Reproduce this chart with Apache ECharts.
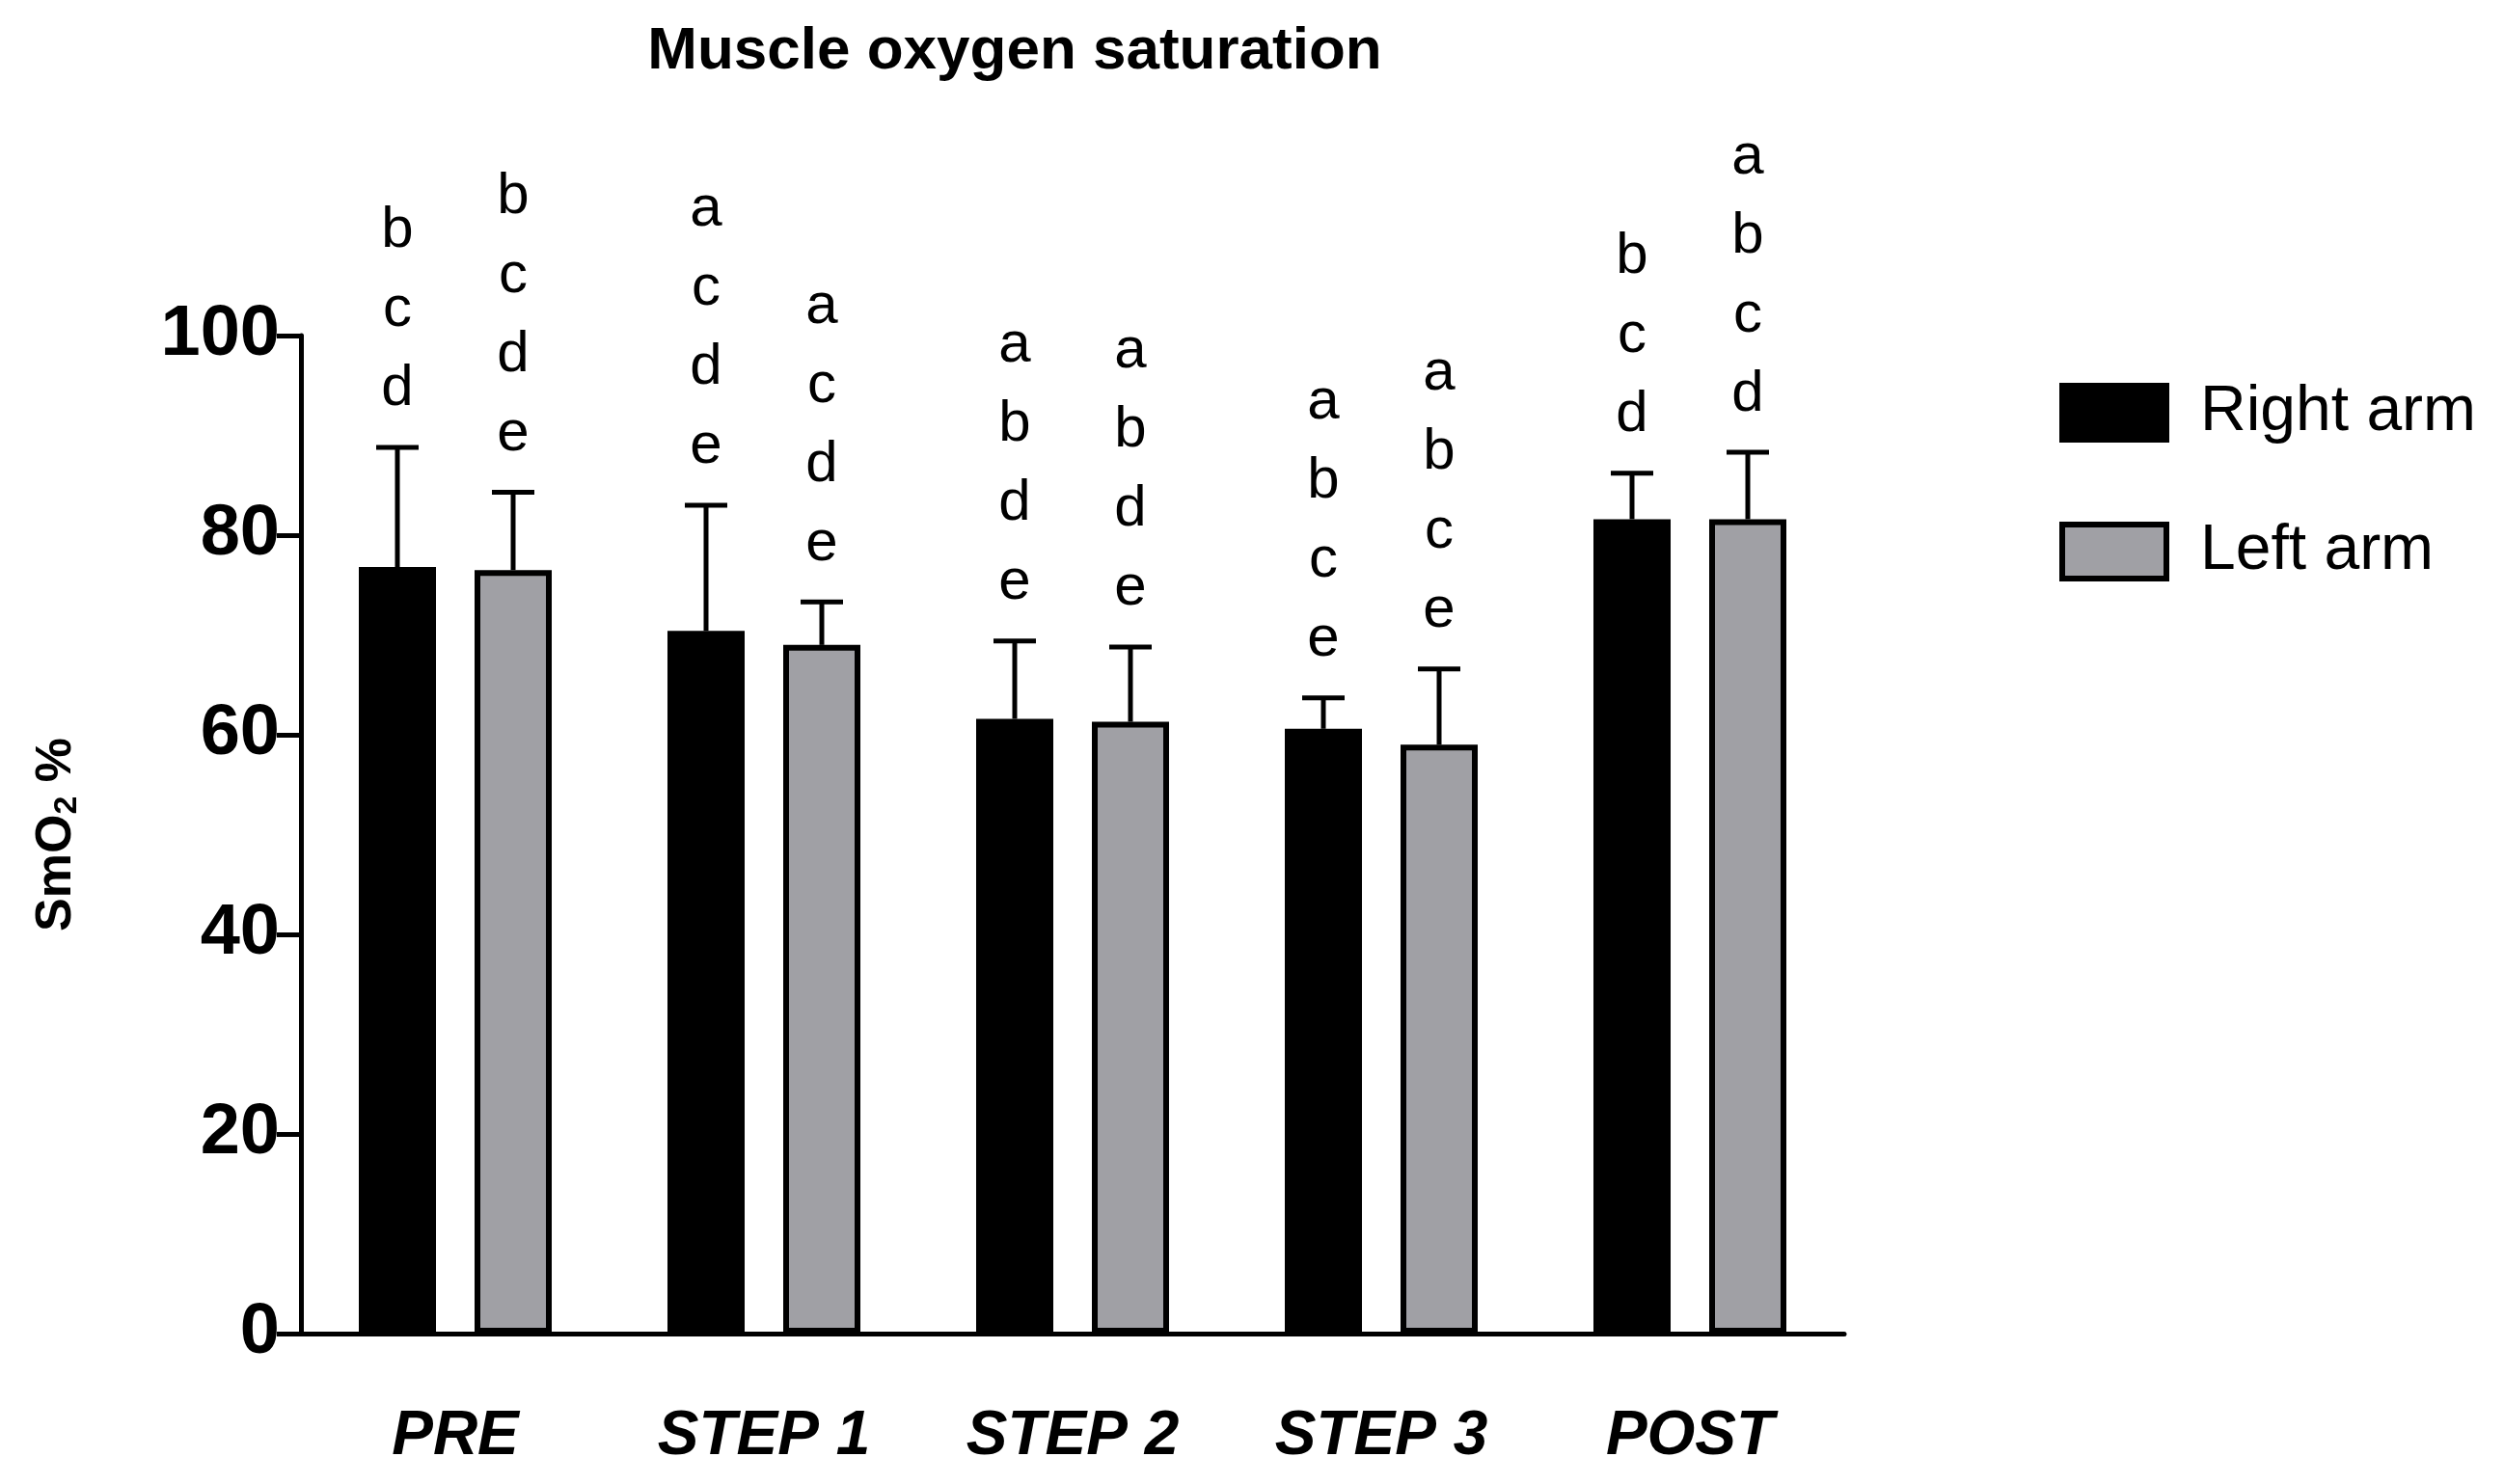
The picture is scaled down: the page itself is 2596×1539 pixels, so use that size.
<!DOCTYPE html>
<html>
<head>
<meta charset="utf-8">
<script src="https://cdn.jsdelivr.net/npm/echarts@6/dist/echarts.min.js"></script>
<style>html,body{margin:0;background:#fff}#chart{width:2596px;height:1539px}</style>
</head>
<body>
<div id="chart"></div>
<script>
const categories = ['PRE', 'STEP 1', 'STEP 2', 'STEP 3', 'POST']
const rightArm = [76.8, 70.4, 61.6, 60.6, 81.6]
const rightErr = [88.8, 83.0, 69.4, 63.7, 86.2]
const leftArm = [76.5, 69.0, 61.3, 59.0, 81.6]
const leftErr = [84.3, 73.3, 68.8, 66.6, 88.3]
const rightLetters = [['b', 'c', 'd'], ['a', 'c', 'd', 'e'], ['a', 'b', 'd', 'e'], ['a', 'b', 'c', 'e'], ['b', 'c', 'd']]
const leftLetters = [['b', 'c', 'd', 'e'], ['a', 'c', 'd', 'e'], ['a', 'b', 'd', 'e'], ['a', 'b', 'c', 'e'], ['a', 'b', 'c', 'd']]
const yTicks = [0, 20, 40, 60, 80, 100]

const chart = echarts.init(document.getElementById('chart'))
const font = 'Liberation Sans, Arial, sans-serif'

// error bar with letters above, shifted to match the grouped bar
function errorSeries(values, tops, letters, offset) {
    return {
        type: 'custom',
        z: 5,
        data: values.map((v, i) => [i, v, tops[i]]),
        renderItem(params, api) {
            const i = api.value(0)
            const base = api.coord([i, api.value(1)])
            const top = api.coord([i, api.value(2)])
            const x = base[0] + offset
            const children = [
                { type: 'line', shape: { x1: x, y1: base[1], x2: x, y2: top[1] }, style: { stroke: '#000', lineWidth: 5 } },
                { type: 'line', shape: { x1: x - 22, y1: top[1], x2: x + 22, y2: top[1] }, style: { stroke: '#000', lineWidth: 5 } }
            ]
            const ls = letters[i]
            ls.forEach((t, k) => {
                children.push({
                    type: 'text',
                    style: {
                        text: t, x: x, y: top[1] - 60 - (ls.length - 1 - k) * 82,
                        fill: '#000', font: '60px ' + font, align: 'center', verticalAlign: 'middle'
                    }
                })
            })
            return { type: 'group', children }
        }
    }
}

chart.setOption({
    backgroundColor: '#fff',
    animation: false,
    title: {
        text: 'Muscle oxygen saturation',
        left: 1047, top: 18, textAlign: 'center',
        textStyle: { fontFamily: font, fontSize: 62, fontWeight: 'bold', color: '#000' }
    },
    legend: {
        orient: 'vertical', left: 2130, top: 390,
        itemWidth: 108, itemHeight: 56, itemGap: 78,
        textStyle: { fontFamily: font, fontSize: 66, color: '#000', padding: [0, 0, 0, 30] },
        data: [
            { name: 'Right arm', icon: 'rect', itemStyle: { color: '#000', borderColor: '#000', borderWidth: 6 } },
            { name: 'Left arm', icon: 'rect', itemStyle: { color: '#a0a0a5', borderColor: '#000', borderWidth: 6 } }
        ]
    },
    grid: { left: 312, right: 684, top: 348, bottom: 156 },
    xAxis: {
        type: 'category', data: categories,
        axisLine: { lineStyle: { color: '#000', width: 5 } },
        axisTick: { alignWithLabel: true, length: 33, lineStyle: { width: 5, color: '#000' } },
        axisLabel: { margin: 75, fontFamily: font, fontSize: 64, fontWeight: 'bold', fontStyle: 'italic', color: '#000' }
    },
    yAxis: {
        type: 'value', min: 0, max: 100, interval: 20,
        name: '{a|SmO}{s|2}{a| %}', nameLocation: 'middle', nameGap: 225, nameRotate: 90,
        nameTextStyle: { rich: { a: { fontFamily: font, fontSize: 52, fontWeight: 'bold', color: '#000' }, s: { fontFamily: font, fontSize: 34, fontWeight: 'bold', color: '#000', padding: [22, 0, 0, 0] } } },
        splitLine: { show: false },
        axisLine: { show: true, lineStyle: { color: '#000', width: 5 } },
        axisTick: { show: true, length: 25, lineStyle: { width: 5, color: '#000' } },
        axisLabel: { margin: 22, fontFamily: font, fontSize: 74, fontWeight: 'bold', color: '#000', formatter: v => yTicks.includes(v) ? v : '' }
    },
    series: [
        { name: 'Right arm', type: 'bar', data: rightArm, barWidth: 80, barGap: '50%', itemStyle: { color: '#000', borderColor: '#000', borderWidth: 6 } },
        { name: 'Left arm', type: 'bar', data: leftArm, barWidth: 80, barGap: '50%', itemStyle: { color: '#a0a0a5', borderColor: '#000', borderWidth: 6 } },
        errorSeries(rightArm, rightErr, rightLetters, -60),
        errorSeries(leftArm, leftErr, leftLetters, 60)
    ]
})
</script>
</body>
</html>
